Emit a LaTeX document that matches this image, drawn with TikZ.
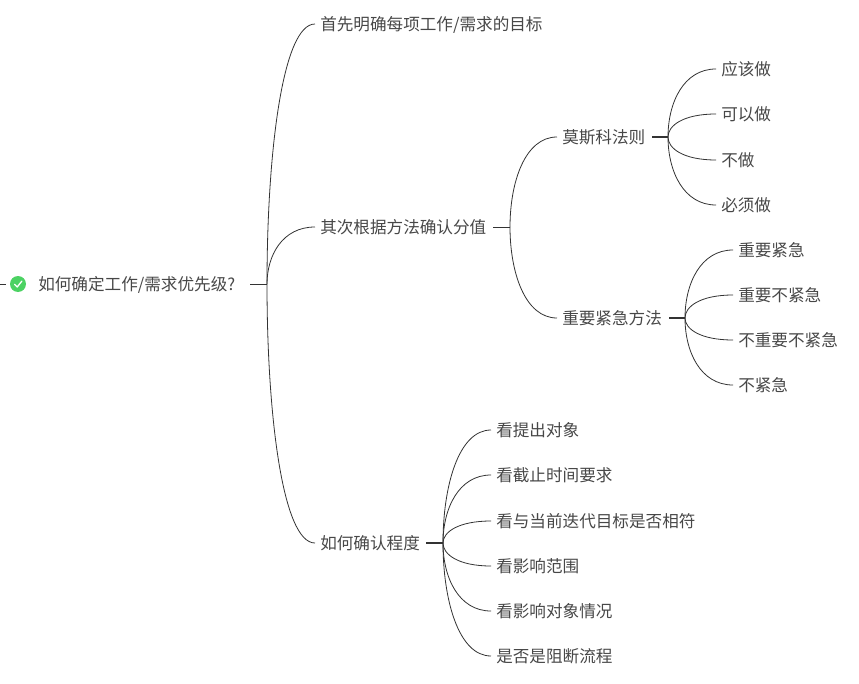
\documentclass[tikz,border=0pt]{standalone}
\usepackage{fontspec}
\setmainfont{Noto Sans CJK SC}
\usetikzlibrary{calc}
\definecolor{ink}{HTML}{333333}
\definecolor{okgreen}{HTML}{4CD263}
\tikzset{
  x=0.75pt,y=-0.75pt,
  topic/.style={anchor=west,inner xsep=3.75pt,inner ysep=0pt,text height=12pt,text depth=2pt,text=ink!90,font=\fontsize{12.45pt}{15pt}\selectfont},
  stub/.style={draw=ink,line width=0.7pt},
  branch/.style={draw=ink,line width=0.6pt},
}
\newcommand{\curve}[2]{\draw[branch] (#1) .. controls ($(#1)!0.5!(#1|-#2.west)$) and ($(#1|-#2.west)!0.32!(#2.west)$) .. (#2.west);}
\begin{document}
\begin{tikzpicture}
\useasboundingbox (0,0) rectangle (859,684);
% root
\coordinate (lstub) at (0,284);
\node[circle,fill=okgreen,inner sep=0pt,minimum size=12pt] (icon) at (18,284) {};
\draw[stub] (lstub) -- (6,284);
\draw[white,line width=1pt,line cap=round,line join=round] ($(icon)+(-3.5,0.3)$) -- ($(icon)+(-0.8,3)$) -- ($(icon)+(3.8,-2.8)$);
\node[topic] (root) at (33,284) {如何确定工作/需求优先级?};
\coordinate (rs) at (250,284);
\coordinate (rf) at (267,284);
\draw[stub] (rs) -- (rf);
% level 1
\node[topic] (a) at (315,24) {首先明确每项工作/需求的目标};
\node[topic] (b) at (315,227) {其次根据方法确认分值};
\node[topic] (c) at (315,543) {如何确认程度};
\curve{rf}{a}\curve{rf}{b}\curve{rf}{c}
% b children
\coordinate (bs) at (493,227);
\coordinate (bf) at (510,227);
\draw[stub] (bs) -- (bf);
\node[topic] (b1) at (557,137) {莫斯科法则};
\node[topic] (b2) at (557,318) {重要紧急方法};
\curve{bf}{b1}\curve{bf}{b2}
% b1 children
\coordinate (b1s) at (652,137);
\coordinate (b1f) at (668,137);
\draw[stub,line width=1.1pt] (b1s) -- (b1f);
\node[topic] (b11) at (716,69) {应该做};
\node[topic] (b12) at (716,114) {可以做};
\node[topic] (b13) at (716,160) {不做};
\node[topic] (b14) at (716,205) {必须做};
\curve{b1f}{b11}\curve{b1f}{b12}\curve{b1f}{b13}\curve{b1f}{b14}
% b2 children
\coordinate (b2s) at (669,318);
\coordinate (b2f) at (685,318);
\draw[stub,line width=1.1pt] (b2s) -- (b2f);
\node[topic] (b21) at (733,250) {重要紧急};
\node[topic] (b22) at (733,295) {重要不紧急};
\node[topic] (b23) at (733,340) {不重要不紧急};
\node[topic] (b24) at (733,385) {不紧急};
\curve{b2f}{b21}\curve{b2f}{b22}\curve{b2f}{b23}\curve{b2f}{b24}
% c children
\coordinate (cs) at (426,543);
\coordinate (cf) at (443,543);
\draw[stub,line width=1.1pt] (cs) -- (cf);
\node[topic] (c1) at (491,430) {看提出对象};
\node[topic] (c2) at (491,475) {看截止时间要求};
\node[topic] (c3) at (491,521) {看与当前迭代目标是否相符};
\node[topic] (c4) at (491,566) {看影响范围};
\node[topic] (c5) at (491,611) {看影响对象情况};
\node[topic] (c6) at (491,656) {是否是阻断流程};
\curve{cf}{c1}\curve{cf}{c2}\curve{cf}{c3}\curve{cf}{c4}\curve{cf}{c5}\curve{cf}{c6}
\end{tikzpicture}
\end{document}
